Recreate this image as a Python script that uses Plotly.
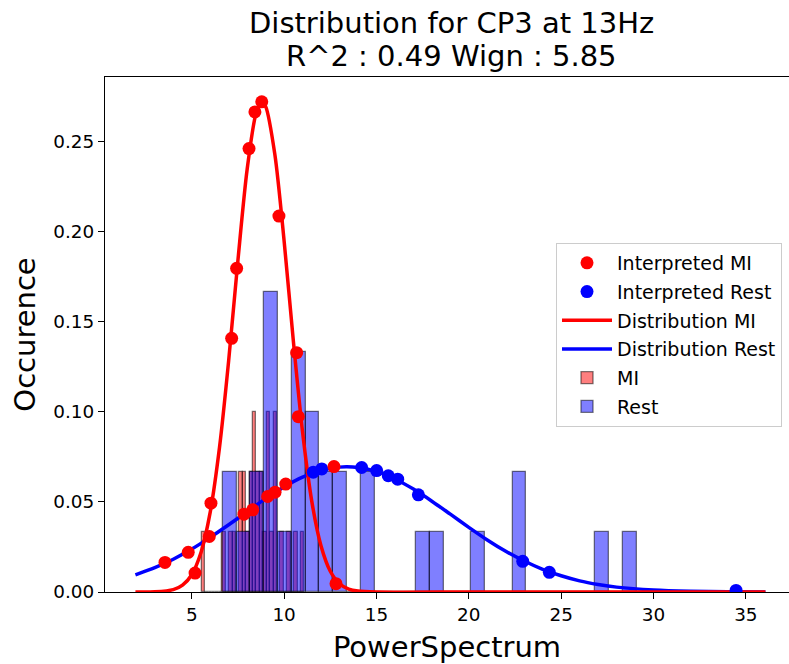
import numpy as np
import plotly.graph_objects as go

# ---- fitted distribution curves (occurrence vs power) ----
dist_mi_x = [1.95, 3.0, 4.0, 4.5, 5.0, 5.5, 6.0, 6.5, 7.0, 7.5, 8.0, 8.5, 8.8,
             9.0, 9.5, 10.0, 10.5, 11.0, 11.5, 12.0, 12.5, 13.0, 13.5, 14.0,
             15.0, 20.0, 25.0, 30.0, 36.06]
dist_mi_y = [0.0, 0.0001, 0.0013, 0.0038, 0.0096, 0.0219, 0.0443, 0.0800,
             0.1285, 0.1840, 0.2346, 0.2664, 0.2720, 0.2695, 0.2428, 0.1949,
             0.1394, 0.0888, 0.0503, 0.0255, 0.0115, 0.0046, 0.0016, 0.0005,
             0.0, 0.0, 0.0, 0.0, 0.0]

dist_rest_x = [1.95, 3, 4, 5, 6, 7, 8, 9, 10, 11, 12, 13, 13.4, 14, 15, 16, 17,
               18, 19, 20, 21, 22, 23, 24, 25, 26, 27, 28, 30, 32, 34, 36.06]
dist_rest_y = [0.0095, 0.0135, 0.0182, 0.0238, 0.0303, 0.0373, 0.0446,
               0.0518, 0.0583, 0.0637, 0.0675, 0.0693, 0.0695, 0.0691, 0.0669,
               0.0627, 0.0571, 0.0504, 0.0432, 0.0359, 0.0289, 0.0226, 0.0172,
               0.0126, 0.0090, 0.0062, 0.0042, 0.0027, 0.0011, 0.0004, 0.0001,
               0.0]

# ---- interpreted samples ----
interp_mi_x = [3.55, 4.81, 5.18, 5.95, 6.04, 7.16, 7.43, 7.83, 8.10, 8.30,
               8.42, 8.79, 9.11, 9.51, 9.72, 10.09, 10.68, 10.77, 12.70, 12.81]
interp_mi_y = [0.0164, 0.0220, 0.0105, 0.0308, 0.0493, 0.1408, 0.1796, 0.0432,
               0.2461, 0.0456, 0.2664, 0.2720, 0.0530, 0.0554, 0.2086, 0.0599,
               0.1328, 0.0973, 0.0696, 0.0046]

interp_rest_x = [11.58, 12.04, 14.20, 15.01, 15.64, 16.15, 17.27, 22.92, 24.36,
                 34.47]
interp_rest_y = [0.0665, 0.0683, 0.0691, 0.0674, 0.0645, 0.0626, 0.0539,
                 0.0170, 0.0109, 0.0009]

# ---- histograms: 30 bins each, occurrence = count / n ----
n_samples = 30
mi_min, mi_max = 5.54, 11.10
rest_min, rest_max = 6.68, 29.09
mi_counts = [1, 0, 0, 0, 0, 0, 1, 0, 1, 1, 0, 2, 2, 1, 2, 3, 2, 2, 1, 3,
             1, 3, 0, 1, 0, 1, 0, 1, 0, 1]
rest_counts = [2, 1, 2, 5, 1, 4, 3, 2, 2, 0, 2, 0, 0, 0, 1, 1, 0, 0, 1, 0,
               0, 2, 0, 0, 0, 0, 0, 1, 0, 1]

title_line1 = "Distribution for CP3 at 13Hz"
title_line2 = "R^2 : 0.49 Wign : 5.85"

FONT = "DejaVu Sans"


def hist_bars(lo, hi, counts):
    edges = np.linspace(lo, hi, len(counts) + 1)
    centers = (edges[:-1] + edges[1:]) / 2
    width = edges[1] - edges[0]
    heights = np.array(counts) / n_samples
    return centers, heights, width


fig = go.Figure()

mc, mh, mw = hist_bars(mi_min, mi_max, mi_counts)
rc, rh, rw = hist_bars(rest_min, rest_max, rest_counts)

fig.add_trace(go.Bar(
    x=mc, y=mh, width=mw, name="MI", legendrank=5, legendgroup="g5",
    marker=dict(color="rgba(255,0,0,0.5)",
                line=dict(color="rgba(0,0,0,0.5)", width=1.3)),
))
fig.add_trace(go.Bar(
    x=rc, y=rh, width=rw, name="Rest", legendrank=6, legendgroup="g6",
    marker=dict(color="rgba(0,0,255,0.5)",
                line=dict(color="rgba(0,0,0,0.5)", width=1.3)),
))

fig.add_trace(go.Scatter(
    x=dist_rest_x, y=dist_rest_y, mode="lines", name="Distribution Rest",
    legendrank=4, legendgroup="g4",
    line=dict(color="#0000ff", width=3.5, shape="spline", smoothing=0.8),
))
fig.add_trace(go.Scatter(
    x=dist_mi_x, y=dist_mi_y, mode="lines", name="Distribution MI",
    legendrank=3, legendgroup="g3",
    line=dict(color="#ff0000", width=3.5, shape="spline", smoothing=0.8),
))
fig.add_trace(go.Scatter(
    x=interp_rest_x, y=interp_rest_y, mode="markers", name="Interpreted Rest",
    legendrank=2, legendgroup="g2",
    marker=dict(color="#0000ff", size=13),
))
fig.add_trace(go.Scatter(
    x=interp_mi_x, y=interp_mi_y, mode="markers", name="Interpreted MI",
    legendrank=1, legendgroup="g1",
    marker=dict(color="#ff0000", size=13),
))

# plot area: left 105px, top ~77px, bottom ~592px; right side runs to the edge
W, H = 789, 664
L, T, B = 105, 77, 72
x0 = (L - 99.4) / 18.47
x1 = (W - 99.4) / 18.47

fig.update_layout(
    width=W, height=H,
    margin=dict(l=L, r=0, t=T, b=B, pad=0),
    paper_bgcolor="white", plot_bgcolor="white",
    barmode="overlay", bargap=0,
    font=dict(family=FONT, color="black", size=18.4),
    showlegend=True,
    legend=dict(
        x=(556 - L) / (W - L), y=(H - B - 243) / (H - B - T),
        xanchor="left", yanchor="top",
        bgcolor="white", bordercolor="#cccccc", borderwidth=1,
        font=dict(family=FONT, size=19, color="black"),
        traceorder="grouped", tracegroupgap=1, itemwidth=50,
    ),
    xaxis=dict(
        range=[x0, x1], showgrid=False, zeroline=False,
        showline=True, linecolor="black", linewidth=1.3, mirror=True,
        ticks="outside", ticklen=6, tickwidth=1.3, tickcolor="black",
        tickvals=[5, 10, 15, 20, 25, 30, 35],
        tickfont=dict(family=FONT, size=18.4, color="black"),
        title=dict(text="PowerSpectrum", font=dict(family=FONT, size=29),
                   standoff=12),
    ),
    yaxis=dict(
        range=[0, 0.2858], showgrid=False, zeroline=False,
        showline=True, linecolor="black", linewidth=1.3, mirror=False,
        ticks="outside", ticklen=6, tickwidth=1.3, tickcolor="black",
        tickvals=[0, 0.05, 0.10, 0.15, 0.20, 0.25], tickformat=".2f",
        tickfont=dict(family=FONT, size=18.4, color="black"),
        title=dict(text="Occurence", font=dict(family=FONT, size=29),
                   standoff=9),
    ),
    annotations=[
        dict(text=title_line1, xref="paper", yref="paper",
             x=(451 - L) / (W - L), y=(H - B - 22.5) / (H - B - T),
             xanchor="center", yanchor="middle", showarrow=False,
             font=dict(family=FONT, size=29, color="black")),
        dict(text=title_line2, xref="paper", yref="paper",
             x=(451 - L) / (W - L), y=(H - B - 56) / (H - B - T),
             xanchor="center", yanchor="middle", showarrow=False,
             font=dict(family=FONT, size=29, color="black")),
    ],
)

fig.write_html("out.html")
